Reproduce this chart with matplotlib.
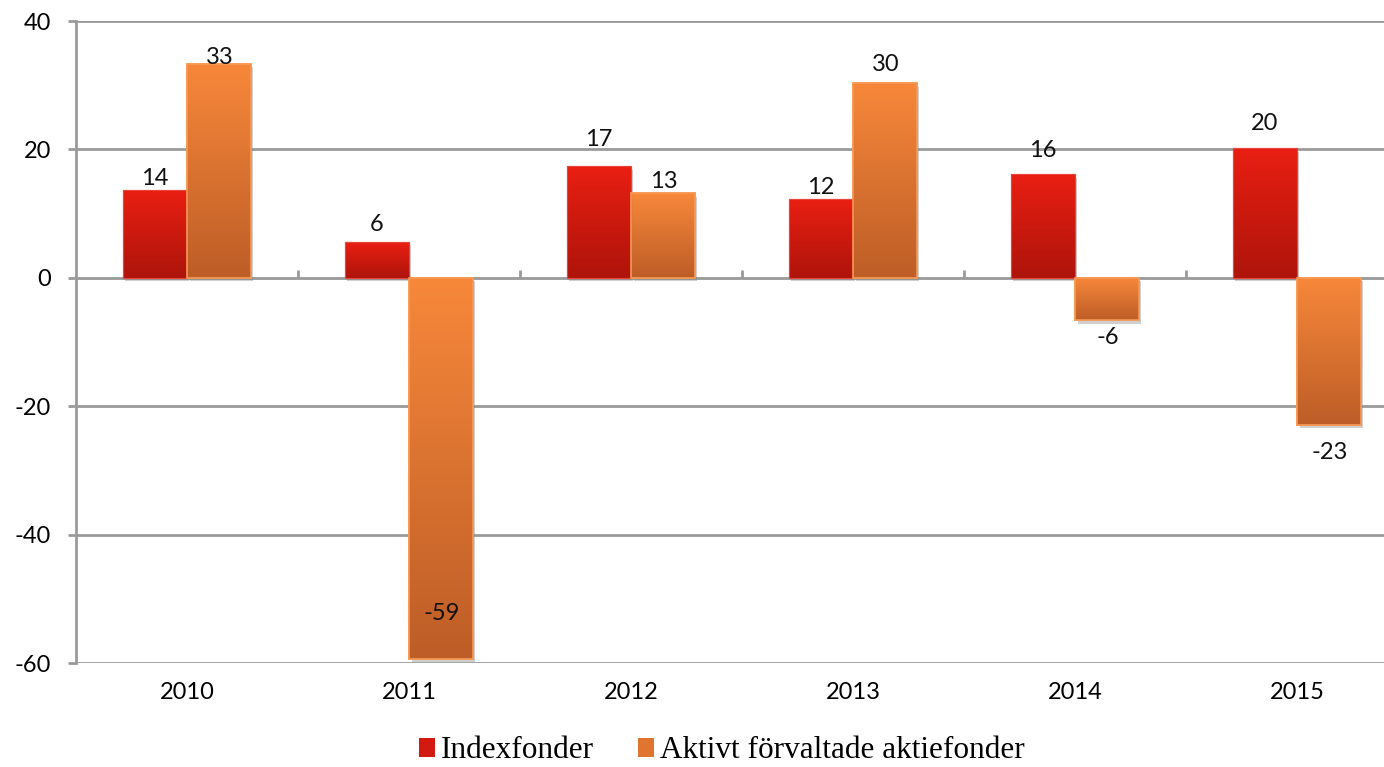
import numpy as np
import matplotlib
matplotlib.use('Agg')
import matplotlib.pyplot as plt
from matplotlib.patches import Patch
from matplotlib.colors import LinearSegmentedColormap
import matplotlib.patheffects as pe

# data
years = ['2010', '2011', '2012', '2013', '2014', '2015']
index_vals = [13.7, 5.6, 17.4, 12.2, 16.1, 20.2]
active_vals = [33.3, -59.3, 13.2, 30.3, -6.6, -22.9]
index_labels = ['14', '6', '17', '12', '16', '20']
active_labels = ['33', '-59', '13', '30', '-6', '-23']
series_names = ['Indexfonder', 'Aktivt förvaltade aktiefonder']

# label distance from bar end, pixels (negative = inside the bar)
index_offset_px = [11, 17, 27, 12, 24, 25]
active_offset_px = [7, -45, 12, 19, 17, 28]

red_top, red_bot = '#E91F12', '#AE140B'
org_top, org_bot = '#F7883A', '#BD5D27'
grid_col = '#9A9A9A'

plt.rcParams['font.family'] = ['Lato', 'DejaVu Sans']
plt.rcParams['axes.unicode_minus'] = False

fig = plt.figure(figsize=(13.84, 7.67), dpi=100)
W, H = 1384, 767
ax = fig.add_axes([76 / W, 1 - 663 / H, 1332 / W, 642 / H])

x = np.arange(len(years))
bw = 0.288
off = 0.146

shadow = [pe.withSimplePatchShadow(offset=(1.5, -2.5), shadow_rgbFace='#777777', alpha=0.35)]
b1 = ax.bar(x - off, index_vals, bw, color=red_top, edgecolor='#E8463A', linewidth=0.8,
            zorder=3, path_effects=shadow)
b2 = ax.bar(x + off, active_vals, bw, color=org_top, edgecolor='#F79A55', linewidth=1.2,
            zorder=3, path_effects=shadow)


def gradient_fill(bars, top, bot):
    cmap = LinearSegmentedColormap.from_list('g', [bot, top])
    grad = np.linspace(0, 1, 256).reshape(-1, 1)
    for b in bars:
        x0, y0 = b.get_x(), b.get_y()
        w, h = b.get_width(), b.get_height()
        ylo, yhi = min(y0, y0 + h), max(y0, y0 + h)
        im = ax.imshow(grad, cmap=cmap, aspect='auto', origin='lower',
                       extent=(x0, x0 + w, ylo, yhi), zorder=3.5)
        im.set_clip_path(b)


gradient_fill(b1, red_top, red_bot)
gradient_fill(b2, org_top, org_bot)
# redraw edges on top of the gradient
for bars, ec in ((b1, '#E8463A'), (b2, '#F79A55')):
    for b in bars:
        r = plt.Rectangle((b.get_x(), b.get_y()), b.get_width(), b.get_height(),
                          fill=False, edgecolor=ec, linewidth=b.get_linewidth(), zorder=4)
        ax.add_patch(r)


def add_labels(bars, vals, labels, offs):
    for b, v, lab, o in zip(bars, vals, labels, offs):
        sgn = 1 if v >= 0 else -1
        ax.annotate(lab, (b.get_x() + b.get_width() / 2, v),
                    xytext=(0, sgn * o * 0.72), textcoords='offset points',
                    ha='center', va='center', fontsize=17, color='#111111', zorder=6)


add_labels(b1, index_vals, index_labels, index_offset_px)
add_labels(b2, active_vals, active_labels, active_offset_px)

ax.set_xlim(-0.5, len(years) - 0.5)
ax.set_ylim(-60, 40)
ax.set_yticks([-60, -40, -20, 0, 20, 40])
ax.yaxis.grid(True, color=grid_col, linewidth=2, zorder=1)
ax.set_axisbelow(True)

for s in ('top', 'right', 'bottom'):
    ax.spines[s].set_visible(False)
ax.spines['left'].set_color(grid_col)
ax.spines['left'].set_linewidth(2)

ax.tick_params(axis='y', length=6, width=2, color=grid_col, labelsize=17, pad=12)
ax.set_xticks(x)
ax.set_xticklabels(years)
ax.tick_params(axis='x', length=0, labelsize=17, pad=14)

# category tick marks on the zero line
sec = ax.secondary_xaxis(0.6)
sec.set_xticks(x[:-1] + 0.5)
sec.set_xticklabels([])
sec.tick_params(axis='x', length=6, width=2, color=grid_col, direction='out')
sec.spines['bottom'].set_visible(False)

handles = [Patch(facecolor='#D21A10', edgecolor='none'),
           Patch(facecolor='#E07431', edgecolor='none')]
fig.legend(handles, series_names, loc='center', bbox_to_anchor=(722 / W, 1 - 751 / H),
           ncol=2, frameon=False, handlelength=0.5, handleheight=0.6, handletextpad=0.2,
           columnspacing=1.4, borderaxespad=0,
           prop={'family': ['Liberation Serif', 'DejaVu Serif'], 'size': 22.5})

fig.savefig('out.png', dpi=100)
